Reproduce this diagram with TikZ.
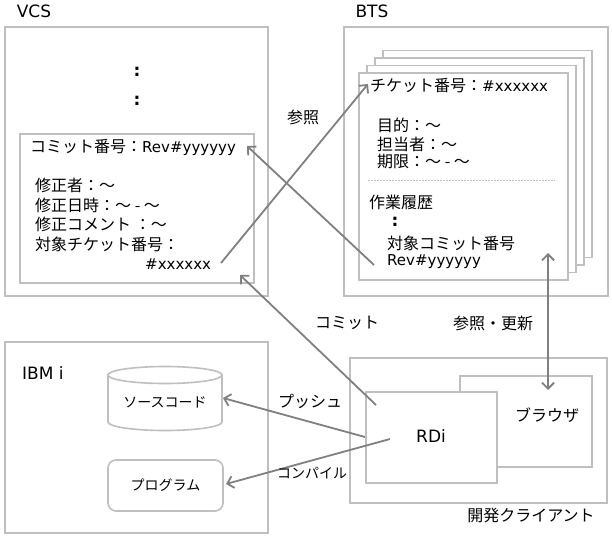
\documentclass[tikz,border=0pt]{standalone}
\usepackage{fontspec}
\setmainfont{Noto Sans CJK JP}
\newfontfamily\lat{DejaVu Sans}
\usetikzlibrary{arrows.meta}
\definecolor{boxgray}{HTML}{BFBFBF}
\definecolor{arrgray}{HTML}{808080}
\newcommand\jl[1]{{\lat\fontsize{15}{19}\selectfont #1}}
\newcommand\ttl[1]{{\lat\fontsize{17}{20}\selectfont #1}}
\newcommand\vdotsign{{\lat\bfseries\fontsize{17}{20}\selectfont :}}
\begin{document}
\begin{tikzpicture}[x=1pt,y=-1pt,font=\fontsize{16}{19}\selectfont,
  box/.style={draw=boxgray,line width=1.6pt,fill=white,inner sep=0pt},
  txt/.style={anchor=west,inner sep=0pt,text=black},
  lbl/.style={inner sep=0pt,text=black},
  small/.style={lbl,font=\fontsize{14}{17}\selectfont},
  arr/.style={draw=arrgray,line width=1.8pt,-{Straight Barb[length=6pt,width=12pt]}},
  darr/.style={draw=arrgray,line width=1.8pt,{Straight Barb[length=6pt,width=12pt]}-{Straight Barb[length=6pt,width=12pt]}}]
\useasboundingbox (0,0) rectangle (612,538);

% ---------- VCS ----------
\node[lbl] (vcsT) at (34,11) {\ttl{VCS}};
\node[box,minimum width=263pt,minimum height=269pt] (vcs) at (136.5,161.5) {};
\node[lbl] (d1) at (137,72) {\vdotsign};
\node[lbl] (d2) at (137,101) {\vdotsign};
\node[box,minimum width=234pt,minimum height=149pt] (commit) at (137,208.5) {};
\node[txt] (c1) at (30,147) {コミット番号：\jl{Rev\#yyyyyy}};
\node[txt] (c2) at (35,185) {修正者：～};
\node[txt] (c3) at (35,205) {修正日時：～ - ～};
\node[txt] (c4) at (35,224.5) {修正コメント ：～};
\node[txt] (c5) at (35,244) {対象チケット番号：};
\node[txt] (c6) at (145,264) {\jl{\#xxxxxx}};

% ---------- BTS ----------
\node[lbl] (btsT) at (372,11) {\ttl{BTS}};
\node[box,minimum width=264pt,minimum height=269pt] (bts) at (476,161.5) {};
\node[box,minimum width=209pt,minimum height=207pt] (p4) at (487.5,154) {};
\node[box,minimum width=209pt,minimum height=207pt] (p3) at (479.5,161.5) {};
\node[box,minimum width=209pt,minimum height=207pt] (p2) at (471.5,169) {};
\node[box,minimum width=209pt,minimum height=207pt] (p1) at (463.5,176.5) {};
\node[txt] (t1) at (370,86) {チケット番号：\jl{\#xxxxxx}};
\node[txt] (t2) at (377,125) {目的：～};
\node[txt] (t3) at (377,144) {担当者：～};
\node[txt] (t4) at (377,162) {期限：～ - ～};
\draw[boxgray,line width=0.8pt,dash pattern=on 2pt off 1pt] (368,180) -- (555,180);
\node[txt] (t5) at (369,202) {作業履歴};
\node[lbl] (t6) at (395,222) {\vdotsign};
\node[txt] (t7) at (387,243) {対象コミット番号};
\node[txt] (t8) at (387,262) {\jl{Rev\#yyyyyy}};

% ---------- IBM i ----------
\node[box,minimum width=263pt,minimum height=191pt] (ibm) at (136.5,437.5) {};
\node[anchor=west,inner sep=0pt] (ibmT) at (22,373) {\ttl{IBM i}};
\path[box] (108,375) -- (108,422) arc[start angle=180,end angle=0,x radius=57,y radius=8.5] -- (222,375) -- cycle;
\draw[box] (165,375) ellipse [x radius=57,y radius=8.5];
\node[small] (src) at (165,402) {ソースコード};
\node[box,rounded corners=8pt,minimum width=115pt,minimum height=51pt] (prog) at (165.5,485.5) {};
\node[small] (progT) at (165.5,485.5) {プログラム};

% ---------- Dev client ----------
\node[box,minimum width=257pt,minimum height=145pt] (dev) at (478.5,430.5) {};
\node[lbl] (devT) at (531,515) {開発クライアント};
\node[box,minimum width=132pt,minimum height=91pt] (browser) at (526,421.5) {};
\node[lbl] (browserT) at (547,415) {ブラウザ};
\node[box,minimum width=131pt,minimum height=91pt] (rdi) at (431.5,437.5) {};
\node[lbl] (rdiT) at (431,436) {\ttl{RDi}};

% ---------- connectors ----------
\coordinate (aS) at (221,263); \coordinate (aE) at (368,84);
\coordinate (bS) at (374,265); \coordinate (bE) at (247,146);
\coordinate (cS) at (376,405); \coordinate (cE) at (240,275);
\coordinate (uT) at (548,253); \coordinate (uB) at (548,390);
\coordinate (pS) at (365,437); \coordinate (pE) at (223,398);
\coordinate (kS) at (390,439); \coordinate (kE) at (226,484);
\draw[arr] (aS) -- (aE);
\draw[arr] (bS) -- (bE);
\draw[arr] (cS) -- (cE);
\draw[darr] (uT) -- (uB);
\draw[arr] (pS) -- (pE);
\draw[arr] (kS) -- (kE);

\node[lbl] (lRef) at (303,117) {参照};
\node[lbl] (lCommit) at (347,323) {コミット};
\node[lbl] (lUpd) at (493,323) {参照・更新};
\node[lbl] (lPush) at (310,401) {プッシュ};
\node[small] (lComp) at (312,473) {コンパイル};
\end{tikzpicture}
\end{document}
